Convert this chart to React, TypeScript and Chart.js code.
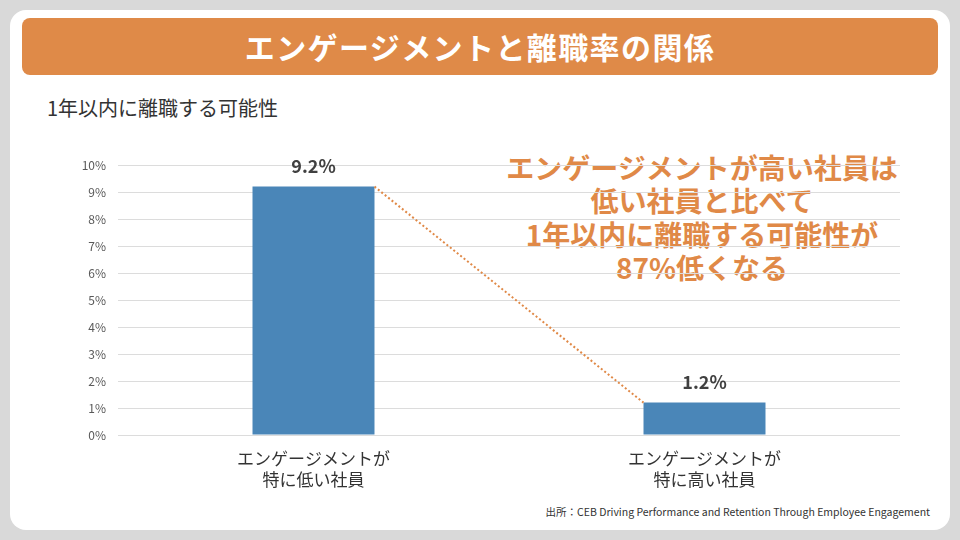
import React, { useEffect, useRef } from "react";
import { Chart, registerables } from "chart.js";

Chart.register(...registerables);

const categories: string[][] = [
  ["エンゲージメントが", "特に低い社員"],
  ["エンゲージメントが", "特に高い社員"],
];
const values: number[] = [9.2, 1.2];
const valueLabels: string[] = ["9.2%", "1.2%"];
const yMin = 0;
const yMax = 10;
const yStep = 1;

const titleText = "エンゲージメントと離職率の関係";
const subtitleText = "1年以内に離職する可能性";
const annotationLines: string[] = [
  "エンゲージメントが高い社員は",
  "低い社員と比べて",
  "1年以内に離職する可能性が",
  "87%低くなる",
];
const sourceText = "出所：CEB Driving Performance and Retention Through Employee Engagement";

const FONT = "'Noto Sans CJK JP', 'Noto Sans', sans-serif";
const ORANGE = "#e08947";
const BAR = "#4a86b8";

const overlayPlugin = {
  id: "overlay",
  afterDatasetsDraw(chart: any) {
    const meta = chart.getDatasetMeta(0);
    const ctx = chart.ctx;
    const b0 = meta.data[0];
    const b1 = meta.data[1];
    if (!b0 || !b1) return;
    ctx.save();
    ctx.strokeStyle = ORANGE;
    ctx.lineWidth = 2;
    ctx.setLineDash([2, 2.4]);
    ctx.beginPath();
    ctx.moveTo(b0.x + b0.width / 2, b0.y);
    ctx.lineTo(b1.x - b1.width / 2, b1.y);
    ctx.stroke();
    ctx.setLineDash([]);
    ctx.fillStyle = "#404040";
    ctx.font = `bold 18px ${FONT}`;
    ctx.textAlign = "center";
    ctx.textBaseline = "middle";
    meta.data.forEach((bar: any, i: number) => {
      ctx.fillText(valueLabels[i], bar.x, bar.y - 20);
    });
    ctx.restore();
  },
};

export default function App() {
  const canvasRef = useRef<HTMLCanvasElement | null>(null);

  useEffect(() => {
    if (!canvasRef.current) return;
    const chart = new Chart(canvasRef.current, {
      type: "bar",
      data: {
        labels: categories,
        datasets: [
          {
            data: values,
            backgroundColor: BAR,
            borderWidth: 0,
            categoryPercentage: 1,
            barPercentage: 0.312,
          },
        ],
      },
      options: {
        animation: false,
        responsive: false,
        maintainAspectRatio: false,
        devicePixelRatio: 1,
        layout: { padding: { left: 0, right: 60, top: 165, bottom: 0 } },
        plugins: {
          legend: { display: false },
          tooltip: { enabled: false },
          title: { display: false },
        },
        scales: {
          x: {
            grid: { display: false, drawTicks: false },
            border: { display: false },
            ticks: {
              color: "#333333",
              padding: 14,
              font: { family: FONT, size: 17, lineHeight: 1.18 },
              maxRotation: 0,
              autoSkip: false,
            },
            afterFit(scale: any) {
              scale.height = 105;
            },
          },
          y: {
            min: yMin,
            max: yMax,
            grid: { color: "#dcdcdc", lineWidth: 1, drawTicks: false },
            border: { display: false },
            ticks: {
              stepSize: yStep,
              color: "#595959",
              padding: 12,
              font: { family: FONT, size: 12 },
              callback: (v: any) => `${v}%`,
            },
            afterFit(scale: any) {
              scale.width = 118;
            },
          },
        },
      },
      plugins: [overlayPlugin],
    });
    return () => chart.destroy();
  }, []);

  return (
    <div
      style={{
        position: "fixed",
        left: 0,
        top: 0,
        width: 960,
        height: 540,
        background: "#d9d9d9",
        fontFamily: FONT,
        overflow: "hidden",
      }}
    >
      <div
        style={{
          position: "absolute",
          left: 10,
          top: 10,
          width: 940,
          height: 520,
          background: "#ffffff",
          borderRadius: 16,
        }}
      />
      <div
        style={{
          position: "absolute",
          left: 22,
          top: 18,
          width: 916,
          height: 57,
          background: "#df8a48",
          borderRadius: 8,
          color: "#ffffff",
          fontWeight: 700,
          fontSize: 30,
          letterSpacing: 1.4,
          lineHeight: "57px",
          textAlign: "center",
        }}
      >
        {titleText}
      </div>
      <div
        style={{
          position: "absolute",
          left: 47,
          top: 96,
          fontSize: 20,
          lineHeight: "24px",
          color: "#333333",
          whiteSpace: "nowrap",
        }}
      >
        {subtitleText}
      </div>
      <div
        style={{
          position: "absolute",
          left: 482,
          top: 151,
          width: 440,
          textAlign: "center",
          fontSize: 28,
          fontWeight: 700,
          lineHeight: "33.3px",
          color: ORANGE,
        }}
      >
        {annotationLines.map((l, i) => (
          <div key={i}>{l}</div>
        ))}
      </div>
      <div
        style={{
          position: "absolute",
          right: 30,
          top: 505,
          fontSize: 10.5,
          lineHeight: "14px",
          color: "#333333",
          whiteSpace: "nowrap",
        }}
      >
        {sourceText}
      </div>
      <canvas
        ref={canvasRef}
        width={960}
        height={540}
        style={{ position: "absolute", left: 0, top: 0, width: 960, height: 540 }}
      />
    </div>
  );
}
